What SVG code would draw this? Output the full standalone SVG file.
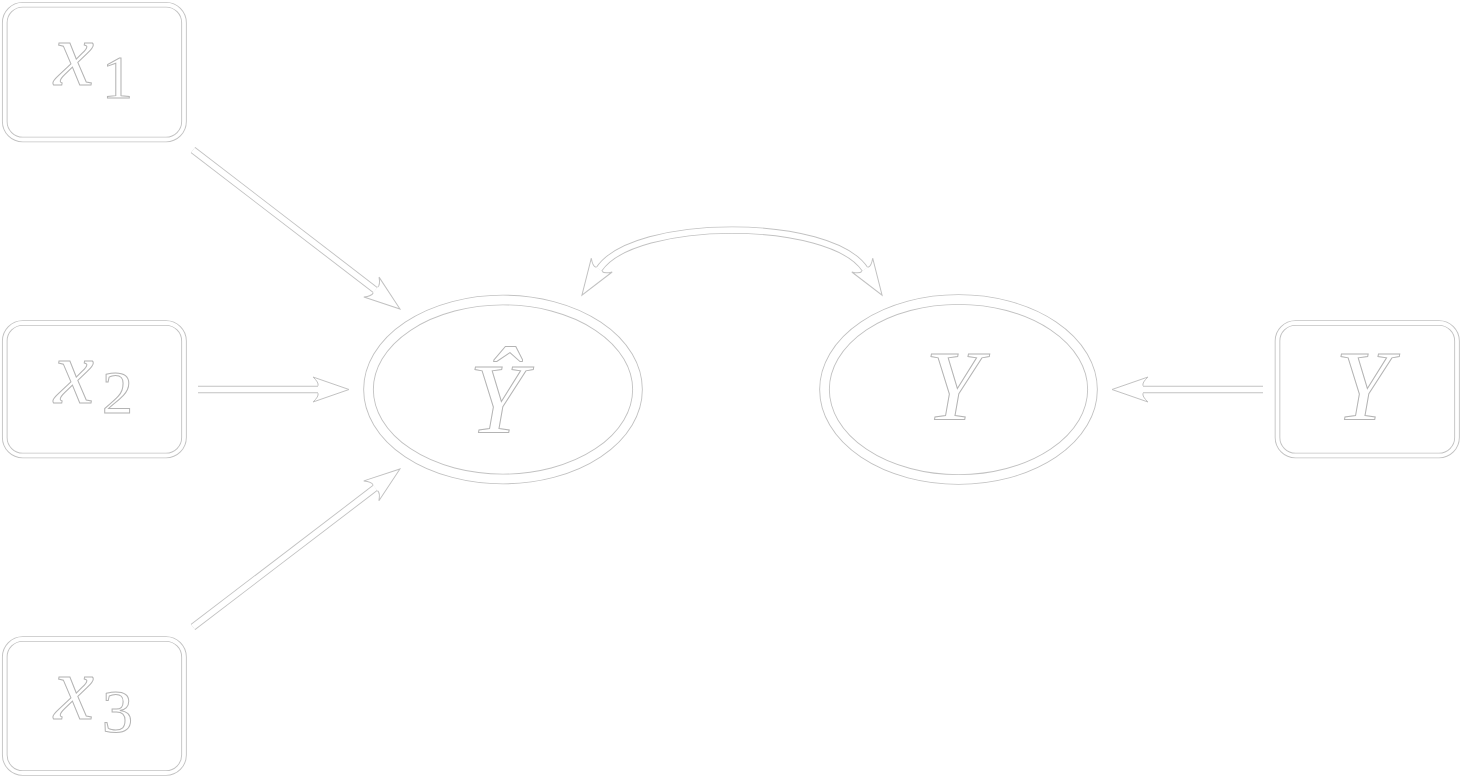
<svg xmlns="http://www.w3.org/2000/svg" width="1462" height="779" viewBox="0 0 1462 779">
<style>
.bg{fill:#ffffff}
.ol{fill:none;stroke:#c2c2c2;stroke-width:5.6}
.in{fill:none;stroke:#ffffff;stroke-width:3.8}
.eol{fill:none;stroke:#c2c2c2;stroke-width:10.6}
.ein{fill:none;stroke:#ffffff;stroke-width:8.8}
.sol{fill:none;stroke:#c2c2c2;stroke-width:7.4}
.sin{fill:none;stroke:#ffffff;stroke-width:5.6}
.m{font-family:"Liberation Serif","DejaVu Serif",serif;font-style:italic;font-size:90px;fill:#ffffff;stroke:#b4b4b4;stroke-width:1}
.sub{font-style:normal;font-size:62px}
.Y{font-size:100px;text-anchor:middle}
</style>
<defs>
<marker id="head" markerUnits="userSpaceOnUse" viewBox="-8 -15 42 30" markerWidth="42" markerHeight="30" refX="0" refY="0" orient="auto-start-reverse" overflow="visible">
<path d="M0,-3.7 Q1,-7 -5,-12.5 L31,0 L-5,12.5 Q1,7 0,3.7 Z" fill="#ffffff" stroke="none"/>
<path d="M0,-3.7 Q1,-7 -5,-12.5 L31,0 L-5,12.5 Q1,7 0,3.7" fill="none" stroke="#c2c2c2" stroke-width="1" stroke-linejoin="miter"/>
</marker>
</defs>
<rect class="bg" x="0" y="0" width="1462" height="779"/>

<g id="connectors">
<g id="e-x1">
<path class="sol" d="M193,150 L375.4,290.1"/>
<path class="sin" d="M193,150 L375.4,290.1" marker-end="url(#head)"/>
</g>
<g id="e-x2">
<path class="sol" d="M198,389.5 H318"/>
<path class="sin" d="M198,389.5 H318" marker-end="url(#head)"/>
</g>
<g id="e-x3">
<path class="sol" d="M193,627 L375.3,487.8"/>
<path class="sin" d="M193,627 L375.3,487.8" marker-end="url(#head)"/>
</g>
<g id="e-y">
<path class="sol" d="M1263,389.5 H1143"/>
<path class="sin" d="M1263,389.5 H1143" marker-end="url(#head)"/>
</g>
<g id="e-arc">
<path class="sol" d="M599,269.3 C633.5,217 830.5,217 865,269.3"/>
<path class="sin" d="M599,269.3 C633.5,217 830.5,217 865,269.3" marker-start="url(#head)" marker-end="url(#head)"/>
</g>
</g>

<g id="x1">
<rect class="ol" x="4.75" y="4.75" width="179.25" height="134.75" rx="18"/>
<rect class="in" x="4.75" y="4.75" width="179.25" height="134.75" rx="18"/>
<text class="m" x="54" y="85">x<tspan class="sub" dx="8" dy="13">1</tspan></text>
</g>
<g id="x2">
<rect class="ol" x="4.75" y="323" width="179.25" height="132.5" rx="18"/>
<rect class="in" x="4.75" y="323" width="179.25" height="132.5" rx="18"/>
<text class="m" x="54" y="403">x<tspan class="sub" dx="8" dy="10">2</tspan></text>
</g>
<g id="x3">
<rect class="ol" x="4.75" y="639" width="179.25" height="134" rx="18"/>
<rect class="in" x="4.75" y="639" width="179.25" height="134" rx="18"/>
<text class="m" x="54" y="719">x<tspan class="sub" dx="8" dy="13">3</tspan></text>
</g>
<g id="yhat">
<ellipse class="eol" cx="503" cy="389.5" rx="134.5" ry="89.5"/>
<ellipse class="ein" cx="503" cy="389.5" rx="134.5" ry="89.5"/>
<text class="m Y" x="497" y="432">Ŷ</text>
</g>
<g id="y">
<ellipse class="eol" cx="958.5" cy="389.5" rx="134" ry="90"/>
<ellipse class="ein" cx="958.5" cy="389.5" rx="134" ry="90"/>
<text class="m Y" x="953" y="419">Y</text>
</g>
<g id="yobs">
<rect class="ol" x="1277.5" y="323" width="179.5" height="132.5" rx="18"/>
<rect class="in" x="1277.5" y="323" width="179.5" height="132.5" rx="18"/>
<text class="m Y" x="1363" y="419">Y</text>
</g>
</svg>
